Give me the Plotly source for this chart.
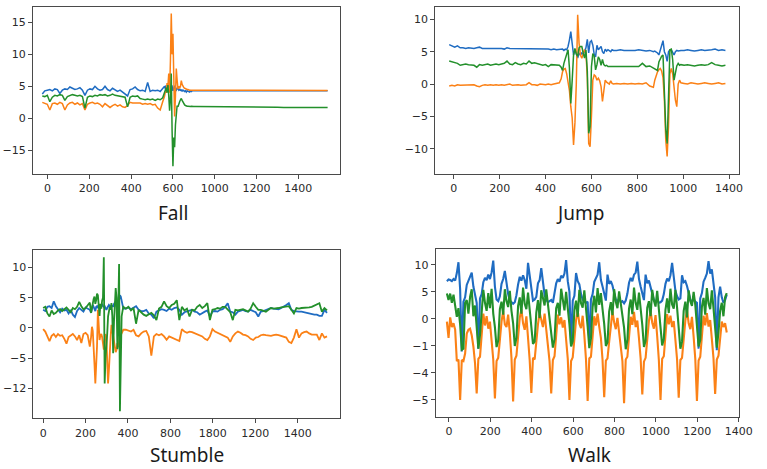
import plotly.graph_objects as go

BLUE, ORANGE, GREEN = "#1f6cc2", "#fb8116", "#23902b"

# ---------------- Fall ----------------
fall_x = list(range(-25, 552, 12)) + list(range(556, 701, 4)) + list(range(710, 1341, 30))
fall_blue = [3.8, 4.3, 4.4, 4.5, 4.3, 4.6, 4.5, 3.9, 4.4, 4.6,
             4.5, 4.9, 4.7, 4.5, 4.6, 4.8, 4.4, 3.6, 4.4, 4.6,
             4.5, 5.0, 4.6, 4.4, 4.5, 5.0, 4.5, 4.3, 4.7, 4.5,
             4.2, 4.4, 4.1, 3.9, 3.5, 4.5, 4.6, 4.9, 4.5, 4.3,
             4.4, 4.2, 5.6, 4.2, 4.4, 4.3, 4.4, 4.2, 4.6,
             4.8, 5.0, 4.6, 5.2, 4.5, 4.8, 5.3, 5.1, 4.4, 4.9,
             5.0, 4.3, 4.6, 5.1, 4.5, 4.4, 4.8, 4.6, 4.4, 4.6,
             4.3, 4.5, 4.2, 4.4, 4.3, 4.2, 4.3, 4.1, 4.3, 4.2,
             4.2, 4.1, 4.3, 4.2, 4.3, 4.3, 4.3,
             4.3, 4.25, 4.3, 4.3, 4.25, 4.3, 4.3, 4.3, 4.25, 4.3, 4.3,
             4.3, 4.3, 4.25, 4.3, 4.3, 4.3, 4.3, 4.3, 4.3, 4.3, 4.3]
fall_orange = [2.5, 2.4, 2.2, 1.3, 2.3, 2.4, 2.2, 2.5, 2.3, 1.3,
               2.1, 2.4, 2.5, 2.2, 2.4, 2.1, 2.3, 1.3, 2.2, 2.4,
               2.5, 2.3, 2.4, 2.2, 1.8, 2.3, 2.0, 1.7, 2.0, 2.2,
               1.9, 2.1, 1.8, 1.7, 2.0, 2.5, 2.4, 2.4, 2.3, 2.4,
               2.2, 2.3, 2.2, 2.3, 2.1, 2.2, 1.6, 1.3, 2.6,
               3.0, 3.5, 4.2, 4.0, 5.5, 5.0, 7.0, 4.0, 9.0, 16.4,
               10.0, 13.2, 6.5, 0.3, 3.5, 7.8, 6.0, 4.6, 5.0, 4.7,
               5.0, 5.9, 5.3, 4.9, 4.8, 4.7, 4.6, 4.6, 4.5, 4.5,
               4.4, 4.4, 4.4, 4.4, 4.4, 4.35, 4.35,
               4.35, 4.3, 4.35, 4.3, 4.35, 4.35, 4.3, 4.35, 4.35, 4.3, 4.35,
               4.35, 4.35, 4.3, 4.35, 4.35, 4.35, 4.35, 4.35, 4.35, 4.35, 4.35]
fall_green = [3.5, 3.4, 3.6, 2.6, 3.3, 3.6, 3.5, 3.7, 3.6, 2.8,
              3.4, 3.5, 3.7, 3.6, 3.5, 3.6, 3.4, 1.6, 3.3, 3.5,
              3.4, 3.6, 3.5, 3.7, 3.6, 3.7, 3.5, 3.6, 3.8, 3.6,
              3.5, 3.5, 3.4, 3.3, 1.8, 3.3, 3.5, 3.4, 3.5, 3.1,
              3.0, 2.9, 3.0, 2.9, 3.0, 2.8, 3.0, 2.9, 3.2,
              3.6, 4.0, 4.5, 4.8, 4.0, 5.2, 3.5, 1.2, 3.0, 7.0,
              -2.0, -7.5, -3.0, -4.5, -1.0, 1.5, 2.0, 1.8, 2.4, 2.6,
              2.9, 3.1, 2.8, 2.5, 2.3, 2.1, 2.0, 1.9, 1.9, 1.9,
              1.85, 1.9, 1.85, 1.9, 1.85, 1.9, 1.85,
              1.85, 1.85, 1.8, 1.85, 1.8, 1.8, 1.8, 1.8, 1.75, 1.8, 1.75,
              1.75, 1.75, 1.75, 1.7, 1.75, 1.7, 1.7, 1.7, 1.7, 1.7, 1.7]

# ---------------- Jump ----------------
jump_x = (list(range(-20, 461, 12)) + list(range(468, 697, 6)) + list(range(710, 871, 16))
          + list(range(876, 991, 6)) + list(range(1004, 1190, 15)))
jump_blue = [6.1, 5.9, 5.7, 5.9, 5.6, 5.6, 5.5, 5.6, 5.5, 5.5, 5.6, 5.7, 5.5, 5.5, 5.6, 5.5, 5.5, 5.6, 5.5, 5.5,
             5.4, 5.6, 5.5, 5.5, 5.5, 5.4, 5.5, 5.4, 5.5, 5.5, 5.4, 5.5, 5.4, 5.4, 5.5, 5.4, 5.4, 5.3, 5.4, 5.3, 5.3,
             5.3, 5.4, 5.2, 5.4, 5.3, 5.8, 6.8, 8.1, 6.3, 4.5, 5.2, 4.8, 4.0, 4.8, 4.5, 4.8, 4.6, 5.2, 5.6, 6.9,
             4.8, 6.5, 6.7, 6.0, 4.6, 4.2, 6.0, 5.3, 5.6, 5.8, 5.0, 4.7, 5.4, 5.1, 5.3, 5.2, 5.0, 5.3, 5.2,
             5.2, 5.3, 5.2, 5.2, 5.1, 5.2, 5.3, 5.2, 5.1, 5.2, 5.0,
             5.1, 5.0, 4.8, 4.5, 5.2, 6.0, 6.7, 5.0, 4.5, 3.5, 5.0, 5.3, 5.3, 4.9, 4.5, 5.0, 5.2, 5.1, 5.2, 5.2,
             5.2, 5.3, 5.2, 5.1, 5.2, 5.3, 5.2, 5.2, 5.3, 5.4, 5.2, 5.3, 5.2]
jump_orange = [-0.3, -0.2, -0.3, -0.1, -0.2, -0.2, -0.1, -0.2, -0.2, -0.1, -0.3, -0.4, -0.2, -0.1, -0.2, -0.1, -0.2, -0.1, -0.2, -0.1,
               -0.2, -0.1, 0.0, -0.2, -0.1, -0.1, -0.2, -0.1, -0.1, 0.2, -0.1, -0.1, -0.2, 0.0, -0.1, -0.1, 0.0, -0.1, 0.0, 0.1, 0.2,
               0.8, 1.9, 2.3, 2.4, 1.6, 0.5, -1.0, -3.5, -5.2, -9.4, -6.0, 0.0, 10.7, 6.3, 4.5, 4.0, 4.8, 5.3, 4.8, 1.0,
               -9.2, -9.7, -5.0, 0.6, 1.4, 1.2, 0.6, 0.9, 0.5, -0.4, -2.7, -0.5, 0.6, 0.3, 0.1, 0.0, 0.5, 0.1, 0.0,
               0.1, 0.0, 0.1, 0.0, 0.1, 0.0, 0.1, 0.0, 0.2, -0.3, -0.5,
               0.6, 1.3, 1.9, 2.2, 2.4, 2.0, 1.0, -2.5, -8.7, -11.2, -6.5, 1.6, 2.4, 1.6, -1.0, -2.5, -3.5, 0.0, 0.6, 0.2,
               0.1, 0.0, 0.2, 0.1, 0.0, 0.1, 0.2, 0.1, 0.0, 0.1, 0.2, 0.0, 0.1]
jump_green = [3.55, 3.4, 3.3, 3.2, 2.9, 3.0, 3.1, 3.0, 3.0, 2.9, 2.6, 3.0, 2.9, 3.0, 3.1, 2.9, 3.0, 3.1, 3.0, 3.1,
              3.2, 3.55, 3.1, 3.0, 3.3, 3.1, 3.0, 3.2, 3.1, 3.55, 3.2, 3.3, 3.2, 3.0, 2.9, 3.0, 2.7, 3.0, 3.0, 2.9, 2.9,
              2.6, 2.1, 3.2, 4.0, 4.7, 5.3, 2.5, -3.0, 0.5, 4.5, 5.5, 4.6, 4.3, 5.6, 5.8, 5.8, 4.8, 4.0, 5.3, 2.0,
              -7.6, -6.6, 2.7, 4.7, 4.3, 2.2, 3.0, 4.2, 3.8, 2.9, 3.8, 3.0, 2.8, 2.9, 2.7, 2.7, 2.8, 2.7, 2.8,
              2.7, 2.8, 2.7, 2.7, 2.7, 2.8, 2.7, 3.2, 2.7, 2.8, 2.5,
              2.4, 2.2, 2.1, 3.4, 4.0, 4.3, 4.5, -1.5, -7.0, -9.2, -3.0, 5.3, 5.4, 3.8, 0.6, 1.9, 2.8, 3.2, 2.9, 3.0,
              2.9, 3.0, 2.9, 2.8, 2.9, 3.0, 2.9, 3.0, 3.3, 3.0, 2.9, 2.8, 2.9]

# ---------------- Stumble ----------------
stumble_x = list(range(0, 221, 10)) + list(range(226, 379, 4)) + list(range(390, 1339, 12))
stumble_blue = [3.0, 2.8, 3.5, 3.6, 3.3, 4.4, 3.6, 3.0, 2.6, 3.2, 2.9, 3.0, 2.4, 3.0, 2.2, 1.8, 2.8, 3.3, 3.0, 2.7,
                3.4, 3.2, 3.0,
                2.5, 3.3, 3.8, 3.5, 3.2, 2.8, 3.5, 3.6, 3.3, 3.7, 3.5, 3.3, 3.8, 4.0, 3.6, 3.5, 3.6, 3.4, 3.0, 3.3,
                3.5, 3.8, 3.6, 3.3, 3.8, 3.7, 3.5, 4.0, 4.2, 3.9, 3.5, 4.5, 4.0, 4.6, 5.4, 5.2, 4.4, 3.6, 3.2,
                3.2, 3.4, 3.1, 3.3, 3.6, 3.0, 2.8, 2.8, 3.0, 2.4, 2.2, 1.6, 2.7, 2.9, 3.1, 3.0, 2.8, 3.2, 3.0, 3.3,
                3.4, 3.0, 2.2, 2.6, 2.7, 2.9, 3.0, 2.7, 2.6, 2.2, 2.5, 2.7, 2.9, 1.9, 2.7, 2.8, 2.7, 3.0, 3.1, 3.5,
                4.1, 2.7, 2.6, 2.2, 2.7, 2.9, 3.0, 2.8, 2.7, 3.0, 2.8, 2.6, 1.9, 2.7, 2.8, 3.0, 3.1, 3.3, 3.2, 3.1,
                3.1, 3.3, 3.5, 3.8, 4.1, 3.0, 2.8, 2.7, 2.7, 2.7, 2.6, 2.4, 2.4, 2.3, 2.2, 2.2, 2.0, 2.0, 3.0, 2.5]
stumble_orange = [-0.2, -0.6, -1.4, -2.2, -1.3, -1.0, -1.5, -1.0, -1.3, -1.2, -1.8, -2.6, -1.5, -1.2, -1.0, -1.4, -2.0, -1.2, -2.5, -1.0,
                  -0.8, -1.2, -3.1,
                  -1.5, 0.2, -0.5, -2.5, -6.0, -9.2, -6.5, -3.0, 3.0, 0.5, -2.0, -1.2, -1.0, -1.5, -2.5, -3.6, -2.0, -1.0, -1.5, -5.0,
                  -9.2, -7.0, -3.0, -1.5, 0.5, -0.5, -1.8, -2.5, -3.0, -4.0, -3.6, -2.5, -3.2, -2.0, -1.5, -1.2, -0.8, -0.6, -0.3,
                  -0.3, -0.5, -0.6, -0.3, -1.2, -1.4, -0.9, -0.6, -0.5, -1.4, -4.6, -1.4, -1.0, -1.2, -1.0, -1.4, -1.95, -1.4, -1.6, -1.8,
                  -2.0, -2.15, -0.2, -0.6, -0.8, -0.6, -0.7, -0.9, -1.0, -1.2, -1.4, -1.8, -2.0, -1.4, -0.2, -0.6, -0.8, -0.9, -1.1, -1.3,
                  -1.6, -2.3, -1.4, -0.9, -0.6, -0.8, -1.1, -1.2, -1.4, -1.8, -2.0, -1.6, -1.5, -1.2, -1.1, -1.2, -1.3, -1.3, -1.2, -1.1,
                  -1.2, -1.3, -1.4, -1.6, -2.3, -2.5, -1.6, -0.2, -1.6, -0.9, -0.7, -0.6, -0.9, -1.1, -1.1, -1.1, -2.0, -0.9, -1.6, -1.4]
stumble_green = [3.3, 3.5, 2.4, 1.9, 2.9, 2.3, 2.5, 2.9, 3.1, 2.8, 3.1, 3.4, 3.0, 2.6, 3.3, 3.1, 3.5, 4.3, 3.6, 3.1,
                 3.3, 3.8, 4.2,
                 2.5, 3.5, 4.3, 4.8, 5.2, 4.0, 4.6, 5.7, 5.4, 3.5, 2.0, 4.0, 3.2, 4.5, 5.0, 11.7, -9.2, -5.0, -3.6, -1.0,
                 1.9, 3.0, 3.5, 3.0, 4.1, 2.0, -4.2, 1.0, 4.6, 6.6, 5.0, -3.5, 3.0, 10.6, -13.8, -4.0, 1.9, 2.8, 3.5,
                 3.2, 3.5, 2.9, 3.3, 0.7, 3.0, 2.6, 2.2, 2.0, 2.3, 2.5, 2.1, 1.3, 3.2, 3.5, 4.4, 3.6, 3.3, 3.8, 4.0,
                 4.6, 1.3, 3.5, 2.9, 3.2, 1.9, 3.0, 2.9, 3.5, 3.8, 3.3, 3.6, 4.1, 1.3, 3.0, 3.1, 3.3, 3.2, 3.5, 3.5,
                 3.0, 2.6, 1.3, 3.0, 2.9, 3.0, 3.1, 2.9, 2.7, 3.2, 4.1, 3.5, 3.0, 3.0, 2.9, 2.7, 3.0, 3.3, 3.2, 3.2,
                 3.3, 3.4, 3.5, 3.5, 3.6, 3.0, 2.4, 3.3, 3.2, 3.3, 3.3, 3.4, 3.4, 3.5, 3.7, 3.9, 4.1, 2.7, 3.3, 2.9]

# ---------------- Walk ----------------
walk_x = list(range(-10, 1343, 8))
walk_blue = [7.0, 7.3, 7.2, 7.0, 7.4, 7.1, 8.5, 10.5,
             5.5, -6.0, 3.2, 4.0, 6.3, 7.0, 7.6, 8.6, 6.0, 4.2,
             3.0, -5.5, 3.8, 4.6, 6.8, 7.6, 7.2, 8.2, 7.4, 8.6, 10.8,
             6.0, 3.6, 3.3, 4.2, 6.5, 7.4, 8.9, 6.2, 4.6, 3.4, 3.0,
             2.8, 3.1, 4.4, 6.4, 7.8, 7.1, 8.1, 7.2, 5.6, 10.4, 8.0,
             5.0, 3.4, 3.6, 4.1, 6.6, 7.2, 9.4, 6.4, 4.4, 3.6, 3.1, 3.3,
             3.5, 3.0, 4.5, 6.6, 7.4, 6.9, 8.0, 7.6, 8.4, 10.9, 7.0,
             5.0, -5.0, 3.4, 4.3, 8.5, 7.0, 6.4, 4.6, 3.6, 3.2, 3.0,
             3.2, -4.5, 3.6, 4.6, 6.9, 7.5, 8.2, 10.5, 7.2, 6.0,
             4.8, 3.4, 8.2, 6.5, 7.0, 6.2, 4.8, 3.6, 3.2, 3.8, 3.1, 3.3,
             2.9, 3.4, 4.7, 6.7, 7.6, 7.0, 8.2, 8.6, 10.6, 7.4, 6.0,
             4.5, 3.5, 8.2, 6.6, 7.1, 6.0, 4.6, 3.5, 3.2, 3.6, 3.0,
             3.1, 3.4, 4.6, 6.5, 7.5, 7.0, 8.1, 10.4, 7.6, 5.2, 4.2,
             3.6, 3.8, 8.1, 6.8, 7.0, 6.1, 4.7, 3.6, 3.2, 3.7, 3.2,
             3.0, -5.5, 3.8, 4.8, 6.9, 7.6, 8.4, 10.7, 8.4, 9.2, 6.0,
             4.0, -5.8, 4.0, 6.0, 4.0, 3.0, 3.5, 4.5]
walk_orange = [-0.5, -3.5, 0.3, -1.5, -0.8, -2.0, -7.8, -7.5,
               -15.0, -7.6, -7.8, -6.4, -2.7, -2.0, -1.8, -3.0, -5.1, -8.2,
               -13.8, -7.4, -7.0, -3.5, 1.0, -1.2, 0.5, -1.8, -0.5, -4.0, -7.5,
               -14.7, -7.8, -7.2, -3.0, -0.5, 1.5, -1.0, -1.5, 0.8, -2.5, -7.2,
               -15.3, -7.5, -6.8, -2.5, 0.2, 1.8, -0.8, -2.0, 0.5, -3.5, -7.6,
               -13.7, -7.2, -7.5, -4.0, -1.0, 1.2, -0.5, -1.5, 1.0, -2.0, -5.5, -7.8,
               -13.8, -7.6, -6.9, -3.2, 0.8, -1.0, 0.3, -1.6, -0.2, -3.8, -7.4,
               -15.0, -7.8, -7.1, -2.8, -0.2, 1.6, -0.9, -1.7, 0.6, -3.0, -7.5,
               -15.2, -7.3, -7.0, -3.6, 0.5, -1.2, 1.0, -1.4, -3.5, -7.6,
               -14.5, -7.7, -7.3, -4.2, -0.8, 1.4, -0.6, -1.9, 0.2, -2.2, -5.0, -7.8,
               -15.6, -7.5, -7.0, -3.1, 0.4, -1.1, 1.3, -1.5, -0.3, -3.6, -7.3,
               -14.0, -7.9, -7.2, -2.9, -0.4, 1.5, -0.7, -1.8, 0.7, -3.2, -7.6,
               -15.0, -7.4, -6.9, -3.4, 0.9, -1.0, 0.6, -1.5, -0.4, -3.9, -7.5,
               -14.6, -7.6, -7.2, -3.0, -0.3, 1.7, -0.8, -1.9, 0.4, -3.3, -7.4,
               -15.2, -7.7, -7.0, -3.5, 0.6, -1.2, 1.1, -1.4, -0.2, -3.7, -7.3,
               -13.9, -7.5, -6.8, -3.0, -0.5, -1.5, -0.8, -2.5]
walk_green = [4.7, 3.5, 4.7, 3.0, 4.5, 2.5, 0.4, 2.0,
              -1.0, -5.7, -5.5, 3.0, 3.5, 1.0, 4.1, 5.5, 0.5, 2.5,
              -2.0, -5.5, -3.0, 2.0, 5.4, 3.0, 1.5, 4.8, 2.0, 5.6, 1.0,
              -1.5, -5.2, -4.0, 1.8, 3.2, 0.8, 5.5, 3.3, 2.2, 5.2, 1.5,
              -0.8, -5.0, -3.5, 2.4, 4.0, 1.0, 5.8, 2.8, 1.8, 4.9, 2.0,
              -1.2, -4.6, -4.2, 1.2, 3.5, 0.2, 5.3, 3.5, 2.5, 5.5, 3.0, 0.8,
              -1.8, -5.3, -3.8, 2.0, 3.0, 0.6, 5.6, 3.1, 1.6, 5.0, 2.2,
              -1.0, -5.1, -4.1, 1.6, 3.4, 0.4, 5.4, 2.9, 2.1, 5.3, 2.4,
              -1.4, -5.4, -3.6, 2.2, 4.3, 1.2, 5.7, 2.6, 4.8, 1.8,
              -0.9, -5.0, -4.3, 1.4, 3.1, 0.7, 5.5, 3.2, 2.0, 5.1, 2.8, 1.0,
              -1.6, -5.6, -3.9, 1.9, 3.6, 0.9, 5.8, 3.0, 1.7, 4.9, 2.3,
              -1.1, -5.2, -4.0, 2.1, 3.3, 0.5, 5.4, 3.4, 2.3, 5.2, 1.9,
              -1.3, -4.9, -3.7, 1.7, 3.8, 1.1, 5.6, 2.7, 1.9, 5.4, 2.1,
              -1.7, -5.5, -4.2, 1.5, 3.2, 0.3, 5.3, 3.3, 2.4, 5.0, 2.6,
              -1.2, -5.1, -3.9, 2.3, 3.9, 0.8, 5.7, 2.9, 1.8, 5.3, 2.0,
              -1.5, -5.3, -2.5, 1.5, 3.0, 0.5, 4.0, 4.8]

for xs, ys in [(fall_x, fall_blue), (fall_x, fall_orange), (fall_x, fall_green),
               (jump_x, jump_blue), (jump_x, jump_orange), (jump_x, jump_green),
               (stumble_x, stumble_blue), (stumble_x, stumble_orange), (stumble_x, stumble_green),
               (walk_x, walk_blue), (walk_x, walk_orange), (walk_x, walk_green)]:
    assert len(xs) == len(ys), (len(xs), len(ys))

# tick labels as printed on the reference
fall_xticks = ["0", "200", "400", "600", "1000", "1200", "1400"]
fall_yticks = ["\u221215", "0", "5", "10", "15"]
jump_xticks = ["0", "200", "400", "600", "800", "1000", "1400"]
jump_yticks = ["\u221210", "\u22125", "0", "5", "10"]
stumble_xticks = ["0", "200", "400", "800", "1800", "1200", "1400"]
stumble_yticks = ["\u221212", "\u22125", "0", "5", "10"]
walk_xticks = ["0", "200", "400", "600", "800", "1000", "1200", "1400"]
walk_yticks = ["\u22125", "\u22124", "\u22121", "0", "5", "10"]
titles = ["Fall", "Jump", "Stumble", "Walk"]

W, H = 767, 469
fig = go.Figure()

panels = [
    dict(x=fall_x, ys=[fall_blue, fall_orange, fall_green], lw=1.5),
    dict(x=jump_x, ys=[jump_blue, jump_orange, jump_green], lw=1.5),
    dict(x=stumble_x, ys=[stumble_blue, stumble_orange, stumble_green], lw=1.8),
    dict(x=walk_x, ys=[walk_blue, walk_orange, walk_green], lw=2.1),
]
for i, p in enumerate(panels):
    ax = "" if i == 0 else str(i + 1)
    for y, c in zip(p["ys"], [BLUE, ORANGE, GREEN]):
        fig.add_trace(go.Scatter(x=p["x"], y=y, mode="lines", line=dict(color=c, width=p["lw"]),
                                 xaxis="x" + ax, yaxis="y" + ax, showlegend=False, hoverinfo="skip"))

def px_dom(a, b, total):
    return [a / total, b / total]

def py_dom(top, bottom):
    return [1 - bottom / H, 1 - top / H]

axis_common = dict(showline=True, mirror=True, linecolor="#4a4a4a", linewidth=1,
                   ticks="outside", ticklen=4, tickcolor="#4a4a4a", tickwidth=1,
                   showgrid=False, zeroline=False,
                   tickfont=dict(family="DejaVu Sans", size=11, color="#2a2a2a"))

specs = [
    ((33.5, 346.7), (7, 174), [-70, 1401], [-8.7, 17.4], [0, 200, 400, 600, 800, 1000, 1200], fall_xticks,
     [-5, 0, 5, 10, 15], fall_yticks),
    ((443.3, 752.7), (7.3, 174), [-81, 1243], [-13.9, 11.86], [0, 200, 400, 600, 800, 1000, 1200], jump_xticks,
     [-10, -5, 0, 5, 10], jump_yticks),
    ((34, 346.7), (250, 418.3), [-46, 1401], [-14.95, 12.9], [0, 200, 400, 600, 800, 1000, 1200], stumble_xticks,
     [-10, -5, 0, 5, 10], stumble_yticks),
    ((443.7, 752.7), (249.3, 416.7), [-64.5, 1401], [-18.1, 12.9], [0, 200, 400, 600, 800, 1000, 1200, 1400], walk_xticks,
     [-15, -10, -5, 0, 5, 10], walk_yticks),
]
layout = dict(width=W, height=H, autosize=False, margin=dict(l=0, r=0, t=0, b=0),
              paper_bgcolor="white", plot_bgcolor="white")
for i, (xd, yd, xr, yr, xtv, xtt, ytv, ytt) in enumerate(specs):
    ax = "" if i == 0 else str(i + 1)
    layout["xaxis" + ax] = dict(axis_common, domain=px_dom(xd[0], xd[1], W), range=xr,
                                tickvals=xtv, ticktext=xtt, anchor="y" + ax)
    layout["yaxis" + ax] = dict(axis_common, domain=py_dom(yd[0], yd[1]), range=yr,
                                tickvals=ytv, ticktext=ytt, anchor="x" + ax)

title_pos = [(176, 213), (591, 213), (190, 455), (600, 455)]
layout["annotations"] = [dict(text=t, x=px / W, y=1 - py / H, xref="paper", yref="paper",
                              xanchor="center", yanchor="middle", showarrow=False,
                              font=dict(family="Noto Sans", size=19, color="#1a1a1a"))
                         for t, (px, py) in zip(titles, title_pos)]
fig.update_layout(**layout)
fig.write_html("out.html")
